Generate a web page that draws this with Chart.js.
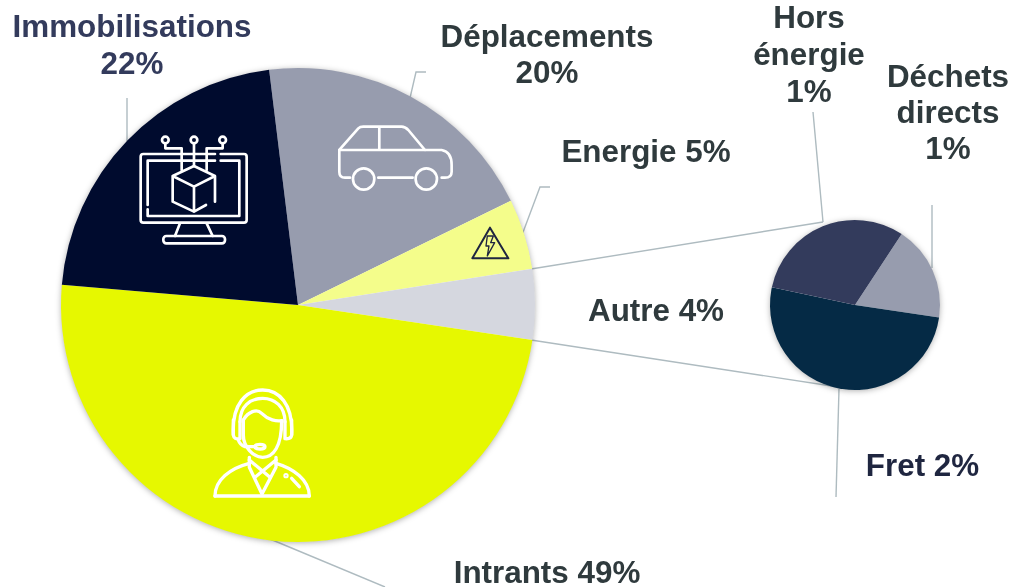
<!DOCTYPE html>
<html lang="fr">
<head>
<meta charset="utf-8">
<title>Répartition des émissions</title>
<script src="https://cdn.jsdelivr.net/npm/chart.js@4"></script>
<style>
    html, body { margin: 0; padding: 0; background: #fff; }
    #page { position: relative; width: 1011px; height: 587px; overflow: hidden; }
    canvas, svg { position: absolute; }
    svg { left: 0; top: 0; }
    .lbl { position: absolute; font: bold 31.4px/31.4px "Liberation Sans", Arial, sans-serif; white-space: nowrap; transform: translateX(-50%); }
</style>
</head>
<body>
<div id="page">
    <!-- leader lines sit under the pies -->
    <svg width="1011" height="587" fill="none" stroke="#aebbc0" stroke-width="1.4">
        <path d="M127 98V141"/>
        <path d="M410 98L416 72H426"/>
        <path d="M522 235L540 187H550"/>
        <path d="M531 269L823 222"/>
        <path d="M531 340L838 387"/>
        <path d="M813 112L823 222"/>
        <path d="M932 205V268"/>
        <path d="M839 389L836 497"/>
        <path d="M270 539L385 587"/>
    </svg>

    <canvas id="mainPie" width="560" height="560" style="left:18px;top:25px"></canvas>
    <canvas id="detailPie" width="220" height="220" style="left:745px;top:195px"></canvas>

    <!-- icons, traced in zoomed coordinates -->
    <svg width="1011" height="587" fill="none" stroke-linecap="round" stroke-linejoin="round">
        <g transform="translate(100,90) scale(0.3333)" stroke="#fff" stroke-width="8">
            <!-- monitor -->
            <path d="M345 192H130Q122 192 122 200V390Q122 398 130 398H432Q440 398 440 390V200Q440 192 432 192H362"/>
            <path d="M345 212H143V345M143 358V378H418V212H362"/>
            <path d="M240 400L225 438M320 400L338 438"/>
            <rect x="190" y="438" width="185" height="22" rx="9"/>
            <path d="M282 228L218 258L282 290L345 258ZM218 258V335L282 365L318 345M345 258V335M282 290V365"/>
            <circle cx="196" cy="150" r="10"/><circle cx="282" cy="150" r="10"/><circle cx="368" cy="150" r="10"/>
            <path d="M196 160V175H245V240M282 160V228M368 160V175H320V240"/>
            <!-- car -->
            <path d="M750 263H735Q718 263 718 245V180L775 115Q780 110 790 110H905Q915 110 925 120L975 180H1025Q1055 185 1055 225V245Q1055 263 1035 263H1025"/>
            <path d="M718 180H975M838 112V180M835 263H938"/>
            <circle cx="791" cy="267" r="32"/><circle cx="979" cy="267" r="32"/>
        </g>
        <!-- warning sign -->
        <g transform="translate(400,20) scale(0.3333)" stroke="#1f2640" stroke-width="6">
            <path d="M270 623L325 715H217Z"/>
            <path d="M262 648H280L272 668H284L262 708L267 678H258Z" stroke-width="4"/>
        </g>
        <!-- person with headset -->
        <g transform="translate(190,380) scale(0.3333)" stroke="#fff" stroke-width="10">
            <path d="M130 165C125 70 170 30 218 30C265 30 310 70 305 165"/>
            <path d="M150 125C150 80 180 55 218 55C255 55 285 80 285 125"/>
            <path d="M130 120V165Q132 180 150 176V125M305 120V165Q303 178 285 176V125"/>
            <path d="M160 120C175 95 200 85 215 100C235 120 260 125 275 122"/>
            <path d="M160 120V165C160 200 190 232 218 232C250 232 275 200 275 122"/>
            <ellipse cx="210" cy="200" rx="15" ry="7"/>
            <path d="M195 200H165Q150 195 145 180"/>
            <path d="M178 232V262L216 342L258 262V232"/>
            <path d="M178 240L240 292M258 240L195 292"/>
            <path d="M75 348H358"/>
            <path d="M75 348C75 300 120 265 178 250M358 348C358 300 310 265 258 250"/>
            <circle cx="288" cy="287" r="3"/>
            <path d="M305 295L328 320"/>
        </g>
    </svg>
</div>

<script>
// main pie, clockwise from the boundary at the top
const mainCategories = ['Déplacements', 'Energie', 'Autre', 'Intrants', 'Immobilisations'];
const mainValues = [19.7, 4.8, 4.8, 49, 21.7];
const mainColors = ['#979cae', '#f4fd8b', '#d5d7df', '#e6f800', '#000b2e'];

// detail pie of the "Autre" share
const detailCategories = ['Déchets directs', 'Fret', 'Hors énergie'];
const detailValues = [18.1, 51, 30.9];
const detailColors = ['#979cae', '#052a45', '#333b5c'];

// text as printed on the picture
const labelLines = [
    ['Immobilisations', '22%'],
    ['Déplacements', '20%'],
    ['Energie 5%'],
    ['Autre 4%'],
    ['Intrants 49%'],
    ['Hors', 'énergie', '1%'],
    ['Déchets', 'directs', '1%'],
    ['Fret 2%']
];

// x centre, first baseline, line step, colour of each label
const labelPlace = [
    [132, 37, 36.5, '#333b5c'],
    [547, 47, 36, '#2f3a3d'],
    [646, 162, 0, '#2f3a3d'],
    [656, 321, 0, '#2f3a3d'],
    [547, 583, 0, '#2f3a3d'],
    [809, 28, 37, '#2f3a3d'],
    [948, 87, 36, '#2f3a3d'],
    [922.5, 476, 0, '#1f2640']
];

const FONT_SIZE = 31.4;
const page = document.getElementById('page');
labelLines.forEach((lines, i) => {
    const [x, base, step, color] = labelPlace[i];
    lines.forEach((text, n) => {
        const el = document.createElement('div');
        el.className = 'lbl';
        el.textContent = text;
        el.style.left = x + 'px';
        // line box top from the wanted baseline
        el.style.top = (base + n * step - FONT_SIZE * 0.815) + 'px';
        el.style.color = color;
        page.appendChild(el);
    });
});

// soft shadow round the whole pie, not round each slice
const pieShadow = {
    id: 'pieShadow',
    beforeDatasetsDraw(chart) {
        const arc = chart.getDatasetMeta(0).data[0];
        const ctx = chart.ctx;
        ctx.save();
        ctx.shadowColor = 'rgba(0,0,0,0.35)';
        ctx.shadowBlur = 6;
        ctx.shadowOffsetY = 1;
        ctx.fillStyle = '#fff';
        ctx.beginPath();
        ctx.arc(arc.x, arc.y, arc.outerRadius - 0.5, 0, Math.PI * 2);
        ctx.fill();
        ctx.restore();
    }
};

const CreatePie = (id, labels, values, colors, rotation, padding) => {
    return new Chart(document.getElementById(id), {
        type: 'pie',
        data: {
            labels: labels,
            datasets: [{ data: values, backgroundColor: colors, borderWidth: 0 }]
        },
        options: {
            responsive: false,
            animation: false,
            rotation: rotation,
            layout: { padding: padding },
            plugins: {
                legend: { display: false },
                tooltip: { enabled: false }
            }
        },
        plugins: [pieShadow]
    });
};

CreatePie('mainPie', mainCategories, mainValues, mainColors, -7, 43);
CreatePie('detailPie', detailCategories, detailValues, detailColors, 33.3, 25);
</script>
</body>
</html>
